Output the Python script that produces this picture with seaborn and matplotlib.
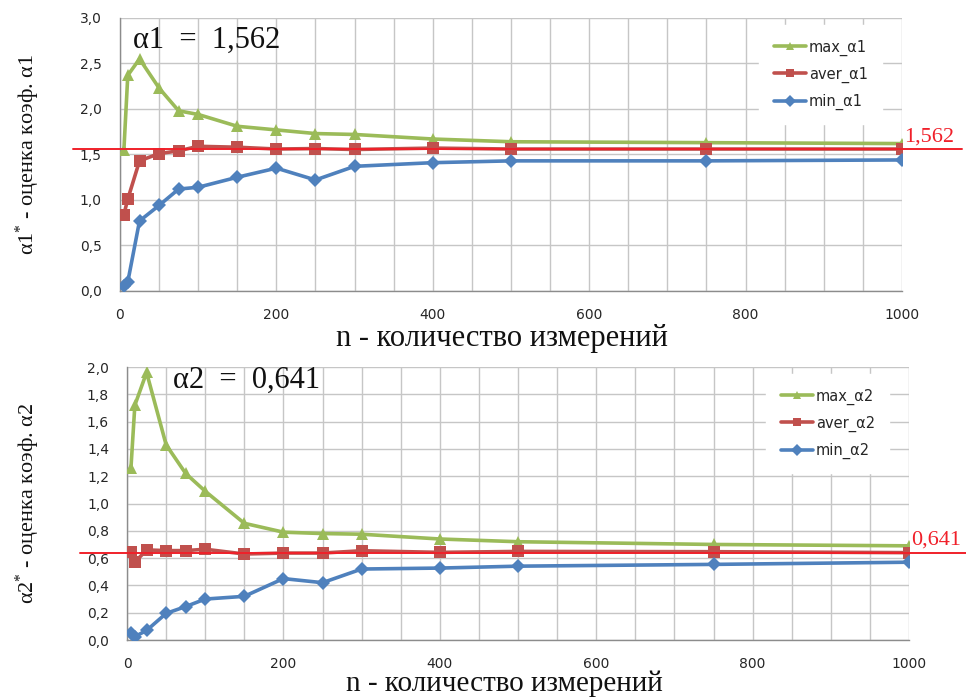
import numpy as np
import pandas as pd
import matplotlib
matplotlib.use("Agg")
import matplotlib.pyplot as plt
import matplotlib.ticker as mticker
import seaborn as sns

# ---------------- data ----------------
n = [5, 10, 25, 50, 75, 100, 150, 200, 250, 300, 400, 500, 750, 1000]

max_a1 = [1.55, 2.37, 2.55, 2.23, 1.98, 1.94, 1.81, 1.77, 1.73, 1.72, 1.67, 1.64, 1.63, 1.62]
aver_a1 = [0.84, 1.01, 1.43, 1.51, 1.54, 1.59, 1.58, 1.56, 1.565, 1.555, 1.57, 1.56, 1.56, 1.56]
min_a1 = [0.05, 0.10, 0.77, 0.94, 1.12, 1.14, 1.25, 1.35, 1.22, 1.37, 1.41, 1.43, 1.43, 1.44]

max_a2 = [1.26, 1.72, 1.96, 1.43, 1.22, 1.09, 0.855, 0.79, 0.78, 0.775, 0.74, 0.72, 0.70, 0.69]
aver_a2 = [0.645, 0.57, 0.66, 0.655, 0.655, 0.665, 0.63, 0.637, 0.637, 0.654, 0.642, 0.649, 0.647, 0.64]
min_a2 = [0.05, 0.025, 0.07, 0.195, 0.245, 0.30, 0.32, 0.45, 0.42, 0.52, 0.527, 0.541, 0.554, 0.57]

true_a1 = 1.562
true_a2 = 0.641
true_a1_label = "1,562"
true_a2_label = "0,641"

labels1 = ["max_α1", "aver_α1", "min_α1"]
labels2 = ["max_α2", "aver_α2", "min_α2"]
titles = ["α1  =  1,562", "α2  =  0,641"]
ylabels = ["α1$^{*}$ - оценка коэф. α1", "α2$^{*}$ - оценка коэф. α2"]
xlabel = "n - количество измерений"

# ---------------- style ----------------
sns.set_style("white")
plt.rcParams["font.family"] = ["DejaVu Sans"]
plt.rcParams["mathtext.fontset"] = "custom"
plt.rcParams["mathtext.rm"] = "Liberation Serif"
plt.rcParams["mathtext.it"] = "Liberation Serif:italic"

GREEN = "#9BBB59"
RED = "#C0504D"
BLUE = "#4F81BD"
REF = "#F0202A"
GRID = "#C6C6C6"
SERIF = ["Liberation Serif", "DejaVu Serif"]

fig = plt.figure(figsize=(9.66, 7.0), dpi=100)
ax1 = fig.add_axes([0.1242, 0.5843, 0.8095, 0.390])
ax2 = fig.add_axes([0.1315, 0.0857, 0.8095, 0.390])


def draw(ax, mx, av, mn, labels, ref, ref_label, ylim, ystep, title, title_xy, ylabel, ylab_x,
         xlab_y, xlab_x, xlab_size, leg_x):
    df = pd.DataFrame({"n": n * 3,
                       "val": list(mx) + list(av) + list(mn),
                       "series": [labels[0]] * len(n) + [labels[1]] * len(n) + [labels[2]] * len(n)})
    sns.lineplot(data=df, x="n", y="val", hue="series", style="series",
                 palette={labels[0]: GREEN, labels[1]: RED, labels[2]: BLUE},
                 markers={labels[0]: "^", labels[1]: "s", labels[2]: "D"},
                 dashes=False, linewidth=2.6, ax=ax, zorder=3,
                 markeredgewidth=0)
    for line, ms in zip(ax.lines[:3], [9, 9, 7]):
        line.set_markersize(ms)

    # reference line extending past the axes
    ax.axhline(ref, xmin=-0.06, xmax=1.077, color=REF, lw=1.4, clip_on=False, zorder=4)
    ax.text(1.003, ref + (ylim[1] - ylim[0]) * 0.010, ref_label, transform=ax.get_yaxis_transform(),
            ha="left", va="bottom", color=REF, fontsize=16, family=SERIF)

    ax.set_xlim(0, 1000)
    ax.set_ylim(*ylim)
    ax.xaxis.set_major_locator(mticker.MultipleLocator(200))
    ax.xaxis.set_minor_locator(mticker.MultipleLocator(50))
    ax.yaxis.set_major_locator(mticker.MultipleLocator(ystep))
    ax.yaxis.set_major_formatter(mticker.FuncFormatter(lambda v, p: f"{v:.1f}".replace(".", ",")))
    ax.xaxis.set_major_formatter(mticker.FuncFormatter(lambda v, p: f"{int(round(v))}"))
    ax.grid(True, which="both", axis="x", color=GRID, lw=1.0)
    ax.grid(True, which="major", axis="y", color=GRID, lw=1.0)
    ax.set_axisbelow(True)
    for s in ["top", "right"]:
        ax.spines[s].set_visible(False)
    for s in ["left", "bottom"]:
        ax.spines[s].set_color("#8C8C8C")
        ax.spines[s].set_linewidth(1.0)
    ax.tick_params(axis="both", which="major", length=5, width=1, color="#8C8C8C",
                   labelsize=10, labelcolor="#262626", direction="out")
    ax.tick_params(axis="y", which="major", pad=8)
    ax.tick_params(axis="x", which="minor", length=0)
    ax.tick_params(axis="x", which="major", pad=7)

    ax.text(title_xy[0], title_xy[1], title, transform=ax.transAxes, ha="left", va="center",
            fontsize=22, family=SERIF, color="#111111")

    ax.set_ylabel(ylabel, family=SERIF, fontsize=16, color="#111111")
    ax.yaxis.set_label_coords(ylab_x, 0.5)
    ax.set_xlabel(xlabel, family=SERIF, fontsize=xlab_size, color="#111111")
    ax.xaxis.set_label_coords(xlab_x, xlab_y)

    leg = ax.legend(loc="upper right", bbox_to_anchor=(leg_x, 0.975), frameon=True,
                    fontsize=10.5, handlelength=2.2, labelspacing=0.75, handletextpad=0.2,
                    borderpad=1.0, borderaxespad=0.0)
    leg.get_frame().set_facecolor("white")
    leg.get_frame().set_edgecolor("white")
    leg.get_frame().set_alpha(1.0)
    leg.set_zorder(5)
    for t in leg.get_texts():
        t.set_color("#262626")


draw(ax1, max_a1, aver_a1, min_a1, labels1, true_a1, true_a1_label, (0, 3.0), 0.5,
     titles[0], (0.017, 0.92), ylabels[0], -0.100, -0.122, 0.488, 22, 0.975)
draw(ax2, max_a2, aver_a2, min_a2, labels2, true_a2, true_a2_label, (0, 2.0), 0.2,
     titles[1], (0.059, 0.952), ylabels[1], -0.109, -0.112, 0.483, 21, 0.975)

fig.savefig("out.png", dpi=100, facecolor="white")
